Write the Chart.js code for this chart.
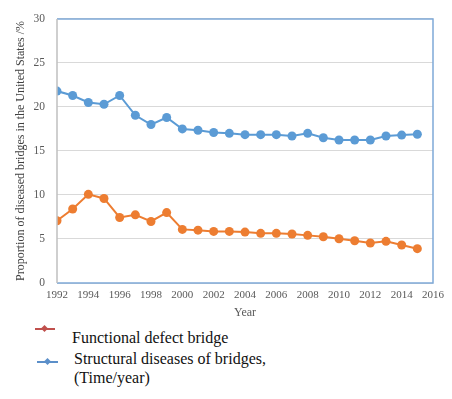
<!DOCTYPE html>
<html><head><meta charset="utf-8">
<script src="https://cdn.jsdelivr.net/npm/chart.js@4/dist/chart.umd.min.js"></script>
<style>
body{margin:0;background:#fff;width:452px;height:399px;overflow:hidden;position:relative;font-family:"Liberation Serif",serif;}
#wrap{position:absolute;left:0;top:0;width:452px;height:320px;}
.lg{position:absolute;font-size:16px;color:#111;line-height:19px;font-family:"Liberation Serif",serif;}
.mk{position:absolute;height:2px;}
.dm{position:absolute;width:5px;height:5px;transform:rotate(45deg);}
</style></head><body>
<div id="wrap"><canvas id="c" width="452" height="320"></canvas></div>
<div class="mk" style="left:35px;top:328px;width:20px;background:#c0504d"></div>
<div class="dm" style="left:42px;top:326px;background:#c0504d"></div>
<div class="lg" style="left:72px;top:328px">Functional defect bridge</div>
<div class="mk" style="left:37px;top:361px;width:21px;background:#5b8fc9"></div>
<div class="dm" style="left:45px;top:359px;background:#5b8fc9"></div>
<div class="lg" style="left:74px;top:349px">Structural diseases of bridges,<br>(Time/year)</div>
<script>
const years = [1992,1993,1994,1995,1996,1997,1998,1999,2000,2001,2002,2003,2004,2005,2006,2007,2008,2009,2010,2011,2012,2013,2014,2015];
const structural = [21.8,21.3,20.5,20.3,21.3,19.05,18.0,18.8,17.5,17.35,17.1,17.0,16.85,16.85,16.85,16.7,17.0,16.5,16.25,16.25,16.25,16.7,16.8,16.9];
const functional = [7.07,8.4,10.07,9.6,7.44,7.74,6.99,8.0,6.09,6.0,5.86,5.86,5.78,5.64,5.64,5.56,5.41,5.26,5.03,4.8,4.55,4.73,4.32,3.9];
const xTicks = [1992,1994,1996,1998,2000,2002,2004,2006,2008,2010,2012,2014,2016];
const yTicks = [0,5,10,15,20,25,30];

const frame = {
  id:'frame',
  afterDatasetsDraw(chart){
    const a = chart.chartArea, ctx = chart.ctx;
    ctx.save();
    ctx.lineWidth = 1.5;
    ctx.strokeStyle = '#7fa9d8';
    ctx.beginPath();
    ctx.moveTo(a.left, a.top); ctx.lineTo(a.right, a.top); ctx.lineTo(a.right, a.bottom); ctx.lineTo(a.left, a.bottom);
    ctx.stroke();
    ctx.strokeStyle = '#bfbfbf';
    ctx.beginPath(); ctx.moveTo(a.left, a.top); ctx.lineTo(a.left, a.bottom); ctx.stroke();
    ctx.restore();
  }
};

const mk = (arr)=>arr.map((v,i)=>({x:years[i],y:v}));
new Chart(document.getElementById('c'),{
  type:'line',
  data:{datasets:[
    {label:'Structural diseases of bridges',data:mk(structural),borderColor:'#5b9bd5',backgroundColor:'#5b9bd5',borderWidth:2,pointRadius:4.5,pointBorderWidth:0,tension:0},
    {label:'Functional defect bridge',data:mk(functional),borderColor:'#ed7d31',backgroundColor:'#ed7d31',borderWidth:2,pointRadius:4.5,pointBorderWidth:0,tension:0}
  ]},
  options:{
    responsive:false,animation:false,
    layout:{padding:{top:16,right:19,left:0,bottom:0}},
    plugins:{legend:{display:false},tooltip:{enabled:false}},
    scales:{
      x:{type:'linear',min:1992,max:2016,
        afterBuildTicks(s){s.ticks=xTicks.map(v=>({value:v}));},
        grid:{display:false,drawTicks:false},border:{display:false},
        ticks:{color:'#595959',font:{family:'Liberation Serif',size:11},padding:6,maxRotation:0,autoSkip:false,callback:v=>String(v)},
        title:{display:true,text:'Year',color:'#595959',font:{family:'Liberation Serif',size:12},padding:{top:0,bottom:0}},
        afterFit(s){s.height=37;}
      },
      y:{min:0,max:30,
        afterBuildTicks(s){s.ticks=yTicks.map(v=>({value:v}));},
        grid:{color:'#d9d9d9',lineWidth:1,drawTicks:false},border:{display:false},
        ticks:{color:'#595959',font:{family:'Liberation Serif',size:11.5},padding:12},
        title:{display:true,text:'Proportion of diseased bridges in the United States /%',color:'#404040',font:{family:'Liberation Serif',size:12},padding:{top:14,bottom:4}},
        afterFit(s){s.width=57;}
      }
    }
  },
  plugins:[frame]
});
</script>
</body></html>
